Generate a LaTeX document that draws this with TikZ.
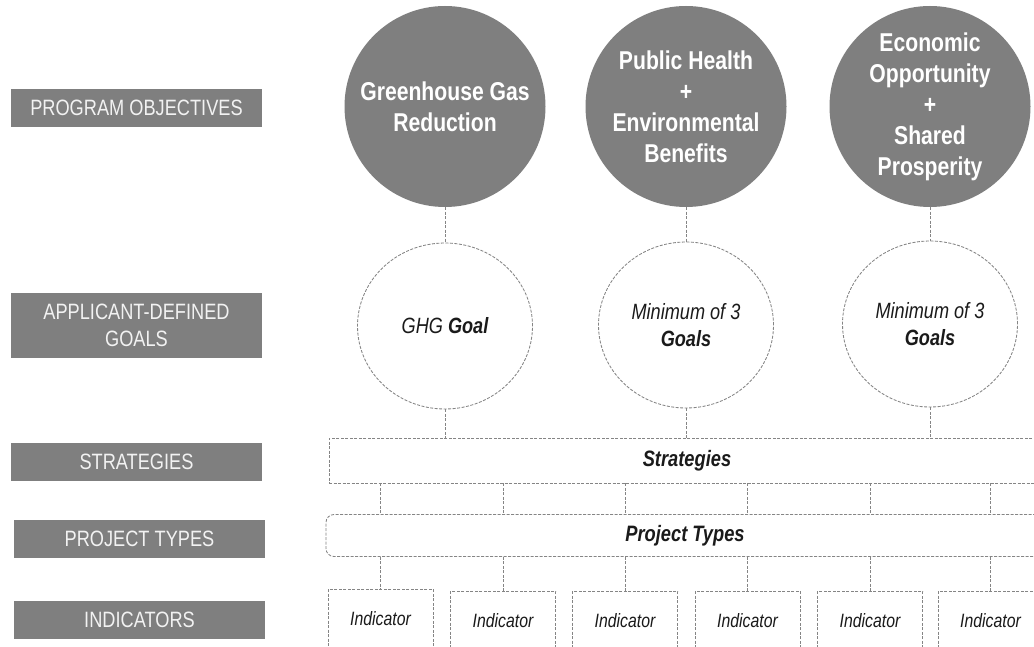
\documentclass[tikz,border=0pt]{standalone}
\usepackage{fontspec}
\setmainfont{Liberation Sans}[FakeStretch=0.82]
\usetikzlibrary{shapes.geometric}
\definecolor{boxgray}{HTML}{7F7F7F}
\definecolor{dashgray}{HTML}{858585}
\definecolor{labeltext}{HTML}{F2F2F2}
\definecolor{ink}{HTML}{1A1A1A}
\begin{document}
\begin{tikzpicture}[x=1pt,y=-1pt,
  dashline/.style={dash pattern=on 3pt off 1.5pt, line width=0.85pt, draw=dashgray},
  lab/.style={fill=boxgray, text=labeltext, minimum width=251pt, align=center, inner sep=0pt,
    font=\fontsize{22.2}{27}\selectfont},
  obj/.style={circle, fill=boxgray, minimum size=201pt, inner sep=0pt, text=white, align=center,
    font=\bfseries\fontsize{25.8}{31}\selectfont},
  goal/.style={ellipse, dashline, fill=white, minimum width=175pt, minimum height=166pt, inner sep=0pt,
    align=center, text=ink, font=\fontsize{22.1}{27}\selectfont},
  bar/.style={rectangle, dashline, fill=white, inner sep=0pt, text=ink,
    font=\bfseries\itshape\fontsize{22.3}{25}\selectfont},
  indbox/.style={rectangle, dashline, fill=white, minimum width=105pt, minimum height=60pt,
    inner sep=0pt, text=ink, font=\itshape\fontsize{19.3}{22}\selectfont}
]
\useasboundingbox (0,0) rectangle (1034,647);
\fill[white] (0,0) rectangle (1034,647);
\clip (0,0) rectangle (1034,647);

% left labels
\node[lab, minimum height=38pt] (lpo) at (136.5,108) {PROGRAM OBJECTIVES};
\node[lab, minimum height=65pt] (lag) at (136.5,325.5) {APPLICANT-DEFINED\\GOALS};
\node[lab, minimum height=38pt] (lst) at (136.5,462) {STRATEGIES};
\node[lab, minimum height=38pt] (lpt) at (139.5,539) {PROJECT TYPES};
\node[lab, minimum height=38pt] (lin) at (139.5,620) {INDICATORS};

% program objectives
\node[obj] (o1) at (445,106.5) {Greenhouse Gas\\Reduction};
\node[obj] (o2) at (686,106.5) {Public Health\\+\\Environmental\\Benefits};
\node[obj] (o3) at (930,106.5) {Economic\\Opportunity\\+\\Shared\\Prosperity};

% goals
\node[goal] (g1) at (445,326) {\itshape GHG \textbf{Goal}};
\node[goal] (g2) at (686,325) {\itshape Minimum of 3\\\bfseries\itshape Goals};
\node[goal] (g3) at (930,324) {\itshape Minimum of 3\\\bfseries\itshape Goals};

% strategies and project types
\node[bar, minimum width=716pt, minimum height=45pt] (strat) at (687,460.5) {Strategies};
\node[bar, rounded corners=8pt, minimum width=718pt, minimum height=42pt] (pt) at (685,535.5) {Project Types};

% indicators
\node[indbox] (i1) at (380.5,619) {Indicator};
\node[indbox] (i2) at (503,621) {Indicator};
\node[indbox] (i3) at (625,621) {Indicator};
\node[indbox] (i4) at (747.5,621) {Indicator};
\node[indbox] (i5) at (870,621) {Indicator};
\node[indbox] (i6) at (990.5,621) {Indicator};

% connectors
\draw[dashline] (o1.south) -- (g1.north);
\draw[dashline] (o2.south) -- (g2.north);
\draw[dashline] (o3.south) -- (g3.north);
\draw[dashline] (g1.south) -- (g1.south |- strat.north);
\draw[dashline] (g2.south) -- (g2.south |- strat.north);
\draw[dashline] (g3.south) -- (g3.south |- strat.north);
\foreach \k in {1,...,6}{
  \draw[dashline] (i\k.north |- strat.south) -- (i\k.north |- pt.north);
  \draw[dashline] (i\k.north |- pt.south) -- (i\k.north);
}
\end{tikzpicture}
\end{document}
